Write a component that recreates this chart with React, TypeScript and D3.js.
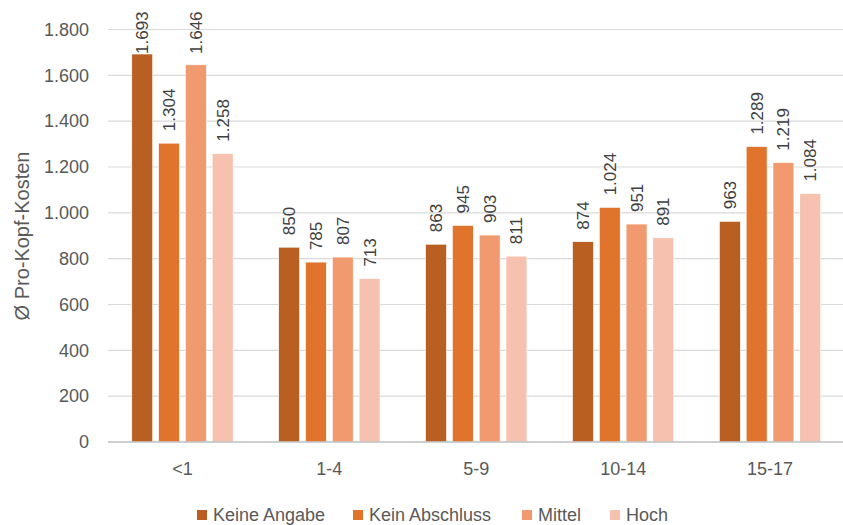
import React from "react";
import * as d3 from "d3";

const categories = ["<1", "1-4", "5-9", "10-14", "15-17"];
const seriesNames = ["Keine Angabe", "Kein Abschluss", "Mittel", "Hoch"];
const keineAngabe = [1693, 850, 863, 874, 963];
const keinAbschluss = [1304, 785, 945, 1024, 1289];
const mittel = [1646, 807, 903, 951, 1219];
const hoch = [1258, 713, 811, 891, 1084];
const seriesValues = [keineAngabe, keinAbschluss, mittel, hoch];
const yTicks = [0, 200, 400, 600, 800, 1000, 1200, 1400, 1600, 1800];
const colors = ["#B95F22", "#E0742D", "#F19A70", "#F6C1AE"];

const W = 843;
const H = 525;
const FONT = "'Liberation Sans', Arial, sans-serif";
const fmt = (v: number) => d3.format(",")(v).replace(/,/g, ".");

export default function App() {
  const x0 = d3.scaleBand<string>().domain(categories).range([109, 843.5]).padding(0);
  const x1 = d3
    .scaleBand<string>()
    .domain(seriesNames)
    .range([0, x0.bandwidth()])
    .paddingInner(0.22)
    .paddingOuter(0.85);
  const y = d3.scaleLinear().domain([0, 1800]).range([442, 29.5]);
  const legendX = [197, 353, 522, 610];

  return (
    <svg width={W} height={H} style={{ position: "absolute", left: 0, top: 0, background: "#fff" }}>
      <rect width={W} height={H} fill="#fff" />
      {yTicks.map((t) => (
        <g key={t}>
          {t > 0 && (
            <line x1={108} x2={843} y1={y(t)} y2={y(t)} stroke="#d9d9d9" strokeWidth={1.2} />
          )}
          <text
            x={89}
            y={y(t)}
            dy="0.35em"
            textAnchor="end"
            fontFamily={FONT}
            fontSize={18}
            fill="#595959"
          >
            {fmt(t)}
          </text>
        </g>
      ))}
      {categories.map((c, ci) => (
        <g key={c}>
          {seriesNames.map((s, si) => {
            const v = seriesValues[si][ci];
            const bx = (x0(c) as number) + (x1(s) as number);
            const bw = x1.bandwidth();
            const top = y(v);
            const start = Math.max(top - 12, 54);
            return (
              <g key={s}>
                <rect
                  x={bx}
                  y={top}
                  width={bw}
                  height={y(0) - top}
                  fill={colors[si]}
                  stroke="#fff"
                  strokeWidth={0.6}
                />
                <text
                  transform={`translate(${bx + bw / 2},${start}) rotate(-90)`}
                  dy="0.35em"
                  fontFamily={FONT}
                  fontSize={17}
                  fill="#404040"
                >
                  {fmt(v)}
                </text>
              </g>
            );
          })}
          <text
            x={(x0(c) as number) + x0.bandwidth() / 2}
            y={475}
            textAnchor="middle"
            fontFamily={FONT}
            fontSize={18}
            fill="#595959"
          >
            {c}
          </text>
        </g>
      ))}
      <line x1={108} x2={843} y1={y(0)} y2={y(0)} stroke="#bfbfbf" strokeWidth={1.5} />
      <text
        transform={`translate(29,236) rotate(-90)`}
        textAnchor="middle"
        fontFamily={FONT}
        fontSize={20}
        fill="#595959"
      >
        Ø Pro-Kopf-Kosten
      </text>
      {seriesNames.map((s, si) => (
        <g key={s} transform={`translate(${legendX[si]},515)`}>
          <rect x={0} y={-5} width={10} height={10} fill={colors[si]} />
          <text x={16} dy="0.35em" fontFamily={FONT} fontSize={18} fill="#595959">
            {s}
          </text>
        </g>
      ))}
    </svg>
  );
}
